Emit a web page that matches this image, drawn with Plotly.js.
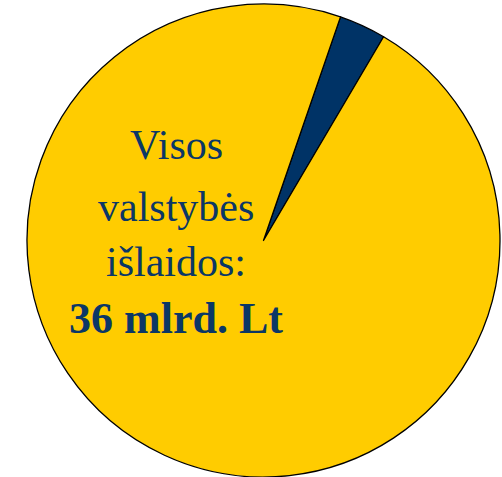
<!DOCTYPE html>
<html>
<head>
<meta charset="utf-8">
<script src="https://cdn.plot.ly/plotly-3.0.1.min.js"></script>
<style>html,body{margin:0;padding:0;background:#fff;}#chart{width:502px;height:477px;}</style>
</head>
<body>
<div id="chart"></div>
<script>
const labels = ["Dalis", "Visos valstybės išlaidos"];
const values = [3.2, 96.8];
const colors = ["#003366", "#FFCC00"];
const textLines = ["Visos", "valstybės", "išlaidos:"];
const totalLabel = "36 mlrd. Lt";

const W = 502, H = 477;
const data = [{
  type: "pie",
  labels: labels,
  values: values,
  sort: false,
  direction: "clockwise",
  rotation: 19,
  marker: {colors: colors, line: {color: "#000000", width: 1.3}},
  textinfo: "none",
  hoverinfo: "none",
  showlegend: false,
  domain: {x: [27 / W, 500 / W], y: [(H - 477) / H, (H - 4) / H]}
}];

const lineY = [145, 207, 262];
const annotations = textLines.map((t, i) => ({
  text: t, x: 176 / W, y: 1 - lineY[i] / H, xref: "paper", yref: "paper",
  showarrow: false, xanchor: "center", yanchor: "middle",
  font: {family: "Liberation Serif, serif", size: 42, color: "#0B3766"}
}));
annotations.push({
  text: "<b>" + totalLabel + "</b>", x: 176 / W, y: 1 - 318 / H, xref: "paper", yref: "paper",
  showarrow: false, xanchor: "center", yanchor: "middle",
  font: {family: "Liberation Serif, serif", size: 44, color: "#0B3766"}
});

const layout = {
  width: W, height: H,
  margin: {l: 0, r: 0, t: 0, b: 0},
  paper_bgcolor: "#ffffff",
  showlegend: false,
  annotations: annotations
};
Plotly.newPlot("chart", data, layout, {displayModeBar: false, staticPlot: true});
</script>
</body>
</html>
